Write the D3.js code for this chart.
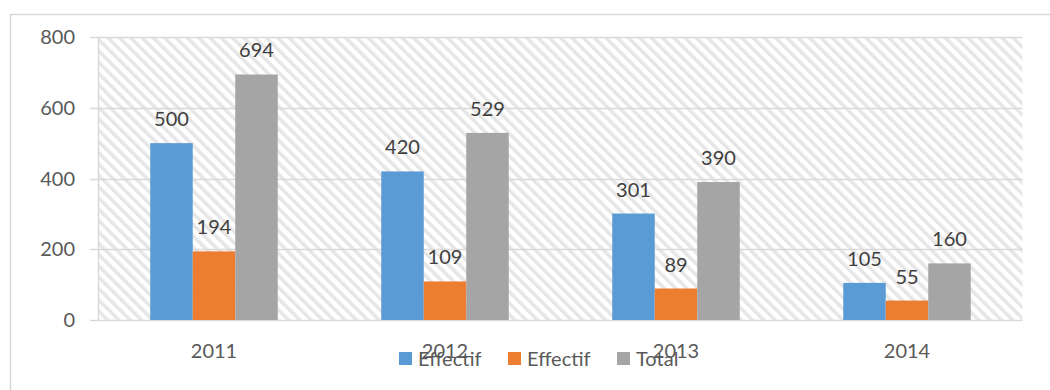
<!DOCTYPE html>
<html>
<head>
<meta charset="utf-8">
<script src="https://cdn.jsdelivr.net/npm/d3@7"></script>
<style>
body { margin: 0; background: #fff; }
text { font-family: Lato, "Open Sans", sans-serif; }
</style>
</head>
<body>
<svg></svg>
<script>
// chart data
const years = ["2011", "2012", "2013", "2014"]
const seriesNames = ["Effectif", "Effectif", "Total"]
const seriesColors = ["#5B9BD5", "#ED7D31", "#A5A5A5"]
const effectif1 = [500, 420, 301, 105]
const effectif2 = [194, 109, 89, 55]
const total = [694, 529, 390, 160]
const yTicks = [0, 200, 400, 600, 800]

const seriesValues = [effectif1, effectif2, total]

const svg = d3.select("svg")
	.attr("width", 1050)
	.attr("height", 390)

// outer frame (runs off the right and bottom edges)
svg.append("rect")
	.attr("x", 10.5)
	.attr("y", 14.5)
	.attr("width", 1060)
	.attr("height", 400)
	.attr("fill", "none")
	.attr("stroke", "#d9d9d9")
	.attr("stroke-width", 1.5)

// hatch pattern
const defs = svg.append("defs")
const pat = defs.append("pattern")
	.attr("id", "hatch")
	.attr("patternUnits", "userSpaceOnUse")
	.attr("width", 8)
	.attr("height", 8)
	.attr("patternTransform", "rotate(-45)")
pat.append("rect")
	.attr("width", 8).attr("height", 8).attr("fill", "#fff")
pat.append("rect")
	.attr("x", 0).attr("y", 0)
	.attr("width", 3.5).attr("height", 8)
	.attr("fill", "#e6e6e6")

const plotL = 98.5, plotR = 1022.5, plotT = 37, plotB = 320

const x0 = d3.scaleBand()
	.domain(years)
	.range([plotL, plotR])
	.paddingInner(0.448)
	.paddingOuter(0.224)

const x1 = d3.scaleBand()
	.domain(d3.range(seriesNames.length))
	.range([0, x0.bandwidth()])

const y = d3.scaleLinear()
	.domain([0, 800])
	.range([plotB, plotT])

svg.append("rect")
	.attr("x", plotL)
	.attr("y", plotT)
	.attr("width", plotR - plotL)
	.attr("height", plotB - plotT)
	.attr("fill", "url(#hatch)")

// gridlines
svg.append("g")
	.selectAll("line")
	.data(yTicks)
	.enter()
	.append("line")
	.attr("x1", 90)
	.attr("x2", plotR)
	.attr("y1", d => Math.round(y(d)) + 0.5)
	.attr("y2", d => Math.round(y(d)) + 0.5)
	.attr("stroke", "#d9d9d9")
	.attr("stroke-width", 1.5)

svg.append("line")
	.attr("x1", plotL).attr("x2", plotL)
	.attr("y1", plotT).attr("y2", plotB)
	.attr("stroke", "#d9d9d9")
	.attr("stroke-width", 1.5)

// y labels
svg.append("g")
	.selectAll("text")
	.data(yTicks)
	.enter()
	.append("text")
	.attr("x", 75)
	.attr("y", d => y(d) + 7)
	.attr("text-anchor", "end")
	.attr("font-size", 20)
	.attr("fill", "#595959")
	.text(d => d)

// bars
const groups = svg.selectAll("g.year")
	.data(years)
	.enter()
	.append("g")
	.attr("class", "year")
	.attr("transform", d => `translate(${x0(d)},0)`)

groups.selectAll("rect")
	.data((d, i) => seriesValues.map((s, k) => ({ k: k, v: s[i] })))
	.enter()
	.append("rect")
	.attr("x", d => x1(d.k))
	.attr("y", d => y(d.v))
	.attr("width", x1.bandwidth())
	.attr("height", d => y(0) - y(d.v))
	.attr("fill", d => seriesColors[d.k])

groups.selectAll("text")
	.data((d, i) => seriesValues.map((s, k) => ({ k: k, v: s[i] })))
	.enter()
	.append("text")
	.attr("x", d => x1(d.k) + x1.bandwidth() / 2)
	.attr("y", d => y(d.v) - 17)
	.attr("text-anchor", "middle")
	.attr("font-size", 20)
	.attr("fill", "#404040")
	.text(d => d.v)

// x labels
svg.append("g")
	.selectAll("text")
	.data(years)
	.enter()
	.append("text")
	.attr("x", d => x0(d) + x0.bandwidth() / 2)
	.attr("y", 358)
	.attr("text-anchor", "middle")
	.attr("font-size", 20)
	.attr("fill", "#595959")
	.text(d => d)

// legend
const legend = svg.append("g")
	.selectAll("g")
	.data(seriesNames)
	.enter()
	.append("g")
	.attr("transform", (d, i) => `translate(${399 + i * 109},0)`)

legend.append("rect")
	.attr("x", 0)
	.attr("y", 352)
	.attr("width", 13)
	.attr("height", 13)
	.attr("fill", (d, i) => seriesColors[i])

legend.append("text")
	.attr("x", 19)
	.attr("y", 366)
	.attr("font-size", 20)
	.attr("fill", "#595959")
	.text(d => d)
</script>
</body>
</html>
